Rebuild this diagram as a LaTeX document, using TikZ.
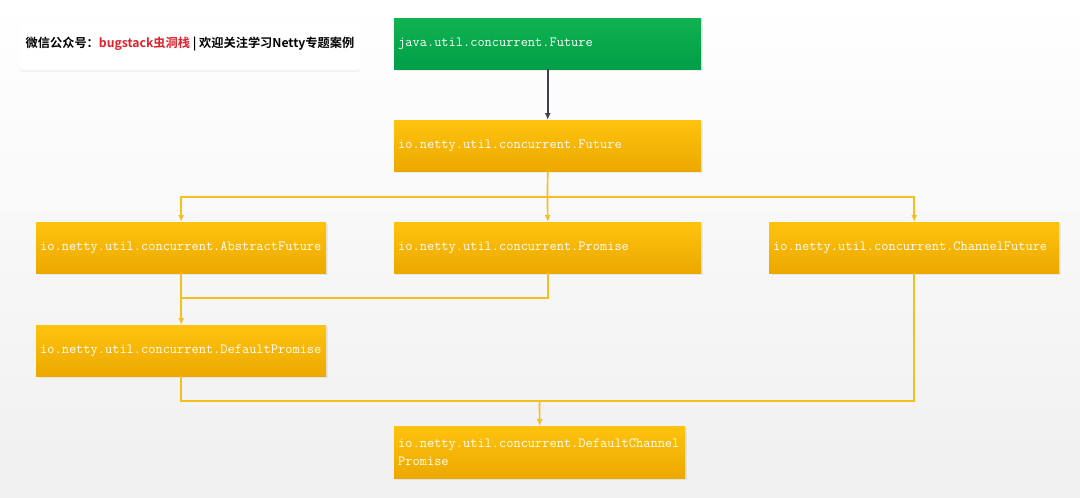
\documentclass[tikz,border=0pt]{standalone}
\usepackage{fontspec}
\newfontfamily\cjkb{Noto Sans CJK SC}[BoldFont={* Bold}]
\usetikzlibrary{arrows.meta,shadows}
\definecolor{ytop}{HTML}{FFC30F}
\definecolor{ybot}{HTML}{ECA800}
\definecolor{gtop}{HTML}{10B350}
\definecolor{gbot}{HTML}{009E48}
\definecolor{yline}{HTML}{F4C020}
\definecolor{dline}{HTML}{404048}
\definecolor{hred}{HTML}{E0202A}
\tikzset{
  box/.style={anchor=north west, minimum height=51pt, inner xsep=4pt, inner ysep=0pt,
    align=left, text=white, font=\ttfamily\fontsize{14}{18}\selectfont,
    top color=ytop, bottom color=ybot, draw=none,
    drop shadow={opacity=0.12, shadow xshift=1.5pt, shadow yshift=-1.5pt}},
  gbox/.style={box, top color=gtop, bottom color=gbot},
  yl/.style={draw=yline, line width=1.7pt},
  arr/.style={-{Latex[length=7pt,width=6pt]}},
  dk/.style={draw=dline, line width=1.7pt}
}
\begin{document}
\begin{tikzpicture}[x=1pt,y=-1pt]
\useasboundingbox (0,0) rectangle (1080,498);
\shade[top color=white, bottom color=black!6] (0,0) rectangle (1080,498);
% header
\node[fill=white, rounded corners=3pt, minimum width=340pt, minimum height=48pt,
  anchor=north west, drop shadow={opacity=0.08, shadow xshift=0pt, shadow yshift=-2pt}] (hdr) at (20,22) {};
\node[font=\cjkb\bfseries\fontsize{12.2}{14}\selectfont] (htxt) at (190,44)
  {微信公众号：\textcolor{hred}{bugstack虫洞栈} | 欢迎关注学习Netty专题案例};
% boxes
\node[gbox, text width=299pt] (g) at (394,18) {java.util.concurrent.Future};
\node[box, text width=299pt] (f) at (394,120) {io.netty.util.concurrent.Future};
\node[box, text width=282pt] (af) at (36,222) {io.netty.util.concurrent.AbstractFuture};
\node[box, text width=299pt] (p) at (394,222) {io.netty.util.concurrent.Promise};
\node[box, text width=282pt] (cf) at (769,222) {io.netty.util.concurrent.ChannelFuture};
\node[box, text width=282pt] (dp) at (36,325) {io.netty.util.concurrent.DefaultPromise};
\node[box, text width=283pt, minimum height=52pt] (dcp) at (394,426) {io.netty.util.concurrent.DefaultChannel\\Promise};
% connectors
\coordinate (j1) at (547.5,197);
\coordinate (j2) at (181,298);
\coordinate (j3) at (539.5,401);
\draw[dk,arr] (g.south) -- (f.north);
\draw[yl] (f.south) -- (j1);
\draw[yl,arr] (j1) -| (af.north);
\draw[yl,arr] (j1) -- (p.north);
\draw[yl,arr] (j1) -| (cf.north);
\draw[yl,arr] (af.south) -- (dp.north);
\draw[yl] (p.south) |- (j2);
\draw[yl] (dp.south) |- (j3) -| (cf.south);
\draw[yl,arr] (j3) -- (dcp.north);
\end{tikzpicture}
\end{document}
